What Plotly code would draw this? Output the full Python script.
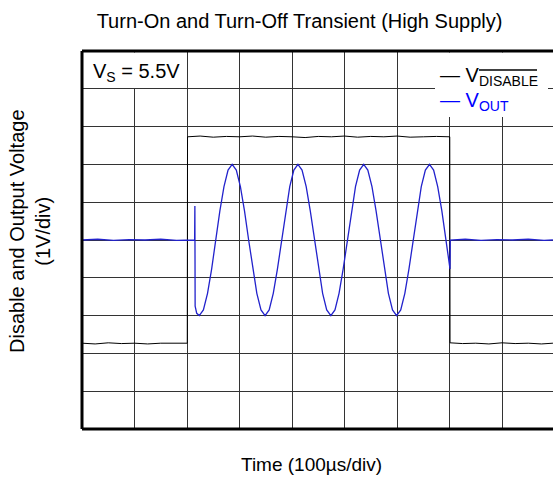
import plotly.graph_objects as go

# Zeit in µs (100 µs/div), Spannung in Raster-Divisionen (1 V/div, Mitte = 5)
disable_t = [0, 25, 50, 75, 100, 125, 150, 175, 200.5, 201, 225, 250, 275, 300, 325, 350, 375,
             400, 425, 450, 475, 500, 525, 550, 575, 600, 625, 650, 675, 700.5, 701, 725, 750,
             775, 800, 825, 850, 875, 897]
disable_v = [2.27, 2.25, 2.28, 2.26, 2.27, 2.25, 2.27, 2.28, 2.27, 7.73, 7.75, 7.72, 7.74, 7.73,
             7.75, 7.72, 7.74, 7.73, 7.71, 7.74, 7.73, 7.75, 7.72, 7.74, 7.73, 7.75, 7.72, 7.73,
             7.74, 7.73, 2.28, 2.26, 2.27, 2.25, 2.28, 2.26, 2.27, 2.25, 2.27]

vout_t = [0, 30, 60, 90, 120, 150, 180, 205, 214.5, 215, 215.5, 218.5,
          223.4, 231.2, 239.1, 246.9, 254.7, 262.6, 270.4, 278.2, 286.0, 293.9, 301.7, 309.5,
          317.4, 325.2, 333.0, 340.9, 348.7, 356.5, 364.3, 372.2, 380.0, 387.8, 395.7, 403.5,
          411.3, 419.1, 427.0, 434.8, 442.6, 450.5, 458.3, 466.1, 474.0, 481.8, 489.6, 497.4,
          505.3, 513.1, 520.9, 528.8, 536.6, 544.4, 552.3, 560.1, 567.9, 575.7, 583.6, 591.4,
          599.2, 607.1, 614.9, 622.7, 630.6, 638.4, 646.2, 654.0, 661.9, 669.7, 677.5, 685.4,
          693.2, 701.0,
          701.4, 730, 760, 790, 820, 850, 880, 897]
vout_v = [5.0, 5.02, 4.99, 5.01, 5.0, 5.02, 4.99, 5.01, 5.0, 5.9, 3.25, 3.06,
          3.0, 3.15, 3.59, 4.23, 5.0, 5.77, 6.41, 6.85, 7.0, 6.85, 6.41, 5.77,
          5.0, 4.23, 3.59, 3.15, 3.0, 3.15, 3.59, 4.23, 5.0, 5.77, 6.41, 6.85,
          7.0, 6.85, 6.41, 5.77, 5.0, 4.23, 3.59, 3.15, 3.0, 3.15, 3.59, 4.23,
          5.0, 5.77, 6.41, 6.85, 7.0, 6.85, 6.41, 5.77, 5.0, 4.23, 3.59, 3.15,
          3.0, 3.15, 3.59, 4.23, 5.0, 5.77, 6.41, 6.85, 7.0, 6.85, 6.41, 5.77,
          5.0, 4.23,
          5.0, 5.02, 4.99, 5.01, 5.0, 5.02, 4.99, 5.0]

FONT = "Liberation Sans, Arial, sans-serif"
BLUE = "#2222cc"


def px_x(px):
    # Pixel -> Papier-Koordinate (Plotfläche 82..553)
    return (px - 82) / 471


def px_y(py):
    # Pixel -> Papier-Koordinate (Plotfläche 51..429)
    return (429 - py) / 378


fig = go.Figure()
fig.add_trace(go.Scatter(x=disable_t, y=disable_v, mode="lines",
                         line=dict(color="black", width=1), showlegend=False))
fig.add_trace(go.Scatter(x=vout_t, y=vout_v, mode="lines",
                         line=dict(color=BLUE, width=1.3), showlegend=False))

grid = dict(showgrid=True, gridcolor="#333333", gridwidth=1.3, zeroline=False,
            showticklabels=False, ticks="", showline=False)
fig.update_xaxes(range=[0, 897.1], dtick=100, tick0=0, **grid)
fig.update_yaxes(range=[0, 10], dtick=1, tick0=0, **grid)

# weiße Kästen für Beschriftung und Legende
fig.add_shape(type="rect", xref="paper", yref="paper", x0=px_x(83.5), x1=px_x(186), y0=px_y(88),
              y1=px_y(52.5), fillcolor="white", line=dict(width=0), layer="above")
fig.add_shape(type="rect", xref="paper", yref="paper", x0=px_x(435), x1=px_x(548), y0=px_y(117),
              y1=px_y(52.5), fillcolor="white", line=dict(width=0), layer="above")
# Rahmen links, oben, unten
for x0, x1, y0, y1 in [(0, 0, 0, 1), (0, 1, 1, 1), (0, 1, 0, 0)]:
    fig.add_shape(type="line", xref="paper", yref="paper", x0=x0, x1=x1, y0=y0, y1=y1,
                  line=dict(color="black", width=3), layer="above")
# Überstrich für DISABLE
fig.add_shape(type="line", xref="paper", yref="paper", x0=px_x(479), x1=px_x(537),
              y0=px_y(70), y1=px_y(70), line=dict(color="black", width=1.5), layer="above")

fig.add_annotation(text="V<sub>S</sub> = 5.5V", xref="paper", yref="paper",
                   x=px_x(91), y=px_y(72), xanchor="left", yanchor="middle",
                   showarrow=False, font=dict(size=20, color="black", family=FONT))
fig.add_annotation(text="— V<sub>DISABLE</sub>", xref="paper", yref="paper",
                   x=px_x(438), y=px_y(76), xanchor="left", yanchor="middle",
                   showarrow=False, font=dict(size=20, color="black", family=FONT))
fig.add_annotation(text="— V<sub>OUT</sub>", xref="paper", yref="paper",
                   x=px_x(438), y=px_y(102), xanchor="left", yanchor="middle",
                   showarrow=False, font=dict(size=20, color="#0000ff", family=FONT))

fig.add_annotation(text="Time (100µs/div)", xref="paper", yref="paper",
                   x=px_x(239), y=px_y(464), xanchor="left", yanchor="middle",
                   showarrow=False, font=dict(size=19, color="black", family=FONT))
fig.add_annotation(text="Disable and Output Voltage<br>(1V/div)", xref="paper", yref="paper",
                   x=px_x(30), y=px_y(231), xanchor="center", yanchor="middle",
                   textangle=-90, showarrow=False,
                   font=dict(size=20, color="black", family=FONT))

fig.update_layout(
    width=553, height=478,
    margin=dict(l=82, r=0, t=51, b=49),
    paper_bgcolor="white", plot_bgcolor="white",
    title=dict(text="Turn-On and Turn-Off Transient (High Supply)", x=299.5 / 553,
               xanchor="center", y=1 - 21 / 478, yanchor="middle",
               font=dict(size=20, color="black", family=FONT)),
    showlegend=False,
)

fig.write_html("out.html", config={"displayModeBar": False},
               post_script="document.body.style.margin='0';")
